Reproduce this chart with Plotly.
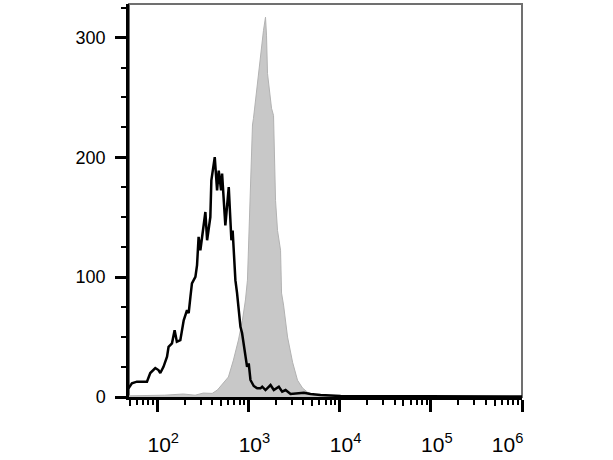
import plotly.graph_objects as go

# stained sample (grey filled histogram)
stain_x = [49.2, 120, 193, 260, 320, 400, 456, 531, 603, 684, 776, 859, 927, 975,
           1026, 1052, 1091, 1107, 1135, 1225, 1355, 1462, 1538, 1578, 1618, 1702,
           1791, 1884, 1932, 1982, 2084, 2249, 2307, 2427, 2685, 3048, 3451, 3917,
           4446, 5176, 7962, 20000, 1e6]
stain_y = [1, 1.5, 2.5, 1.5, 3.3, 3, 5.8, 11.7, 16.7, 30.8, 47.5, 64, 81, 97.5,
           147.5, 181, 206, 227, 232.5, 256, 285, 306, 317, 302, 270, 256,
           241, 235, 197.5, 164, 139, 122.5, 86.7, 76.7, 50, 29, 14, 7.5,
           4, 1.7, 1, 0.5, 0]

# isotype control (black line)
ctrl_x = [48.4, 52.7, 59.8, 68, 77.1, 83.8, 95.1, 103, 108, 117, 128, 133, 145,
          155, 164, 179, 195, 212, 221, 231, 240, 262, 273, 284, 297, 337, 352,
          382, 392, 427, 453, 472, 501, 514, 558, 608, 650, 671, 719, 750, 817,
          851, 887, 927, 966, 1007, 1052, 1143, 1247, 1355, 1416, 1538, 1746,
          1897, 2153, 2344, 2553, 2897, 3573, 4055, 4797, 6180, 10260, 1e6]
ctrl_y = [7.2, 11.4, 12.8, 12.5, 12.8, 20, 24.2, 22.5, 20, 25.2, 33.6, 41.9, 44.8,
          55.8, 46.1, 47.5, 64, 72.5, 70, 83.6, 94.8, 100.2, 110, 133.6, 122.5,
          154.4, 130.8, 150.2, 180.8, 200.2, 172.5, 189, 172.5, 186.4, 143.3,
          175.2, 130.8, 139, 97.5, 86.7, 58.6, 53.4, 44.8, 35, 25.2, 28, 14.2,
          9.2, 7.2, 7.2, 8.6, 5.8, 10, 5.8, 8.6, 4.4, 5.8, 2.5, 3.1, 3.6, 2.5,
          1.7, 0.8, 0.4]

decades = [1e2, 1e3, 1e4, 1e5, 1e6]
decade_labels = ["10<sup>2</sup>", "10<sup>3</sup>", "10<sup>4</sup>", "10<sup>5</sup>",
                 "10<sup>6</sup>" + "&nbsp;" * 7]
minor_ticks = [m * 10 ** e for e in range(1, 6) for m in (2, 3, 4, 6, 7, 8, 9) if m * 10 ** e > 49]
half_ticks = [5 * 10 ** e for e in range(1, 6)]

fig = go.Figure()
fig.add_trace(go.Scatter(x=stain_x, y=stain_y, mode="lines", fill="tozeroy",
                         fillcolor="#c8c8c8", line=dict(color="#b2b2b2", width=1)))
fig.add_trace(go.Scatter(x=ctrl_x, y=ctrl_y, mode="lines",
                         line=dict(color="black", width=2.5)))
# helper axis just for the medium ticks at 5x10^n
fig.add_trace(go.Scatter(x=[None], y=[None], xaxis="x2", hoverinfo="skip"))

fig.update_layout(
    width=613, height=460,
    margin=dict(l=129, r=91, t=4, b=63),
    plot_bgcolor="white", paper_bgcolor="white",
    showlegend=False,
    font=dict(family="Liberation Sans, Arial", size=18, color="black"),
    xaxis=dict(type="log", range=[1.69, 6.0], tickmode="array", tickvals=decades,
               ticktext=decade_labels, ticks="outside", ticklen=12, tickwidth=3,
               tickcolor="black", showline=True, linecolor="black", linewidth=3,
               showgrid=False, zeroline=False, ticklabelstandoff=15, ticklabelshift=6,
               tickfont=dict(size=21),
               minor=dict(tickmode="array", tickvals=minor_ticks, ticks="outside",
                          ticklen=5, tickwidth=2, tickcolor="black", showgrid=False)),
    xaxis2=dict(type="log", range=[1.69, 6.0], overlaying="x", side="bottom",
                tickmode="array", tickvals=half_ticks, showticklabels=False,
                ticks="outside", ticklen=8, tickwidth=2, tickcolor="black",
                showline=False, showgrid=False, zeroline=False),
    yaxis=dict(range=[0, 328], tickvals=[0, 100, 200, 300], ticks="outside",
               ticklen=11, tickwidth=3, tickcolor="black", showline=True,
               linecolor="black", linewidth=2.5, showgrid=False, zeroline=False,
               ticklabelstandoff=6,
               minor=dict(dtick=25, ticks="outside", ticklen=5, tickwidth=2,
                          tickcolor="black", showgrid=False)),
    shapes=[dict(type="rect", xref="paper", yref="paper", x0=0, x1=1, y0=0, y1=1,
                 line=dict(color="#707070", width=2), layer="below")],
)

# drop the browser's default body margin so the figure sits at the page corner
fig.write_html("out.html", config={"displayModeBar": False},
               post_script="document.body.style.margin='0';")
